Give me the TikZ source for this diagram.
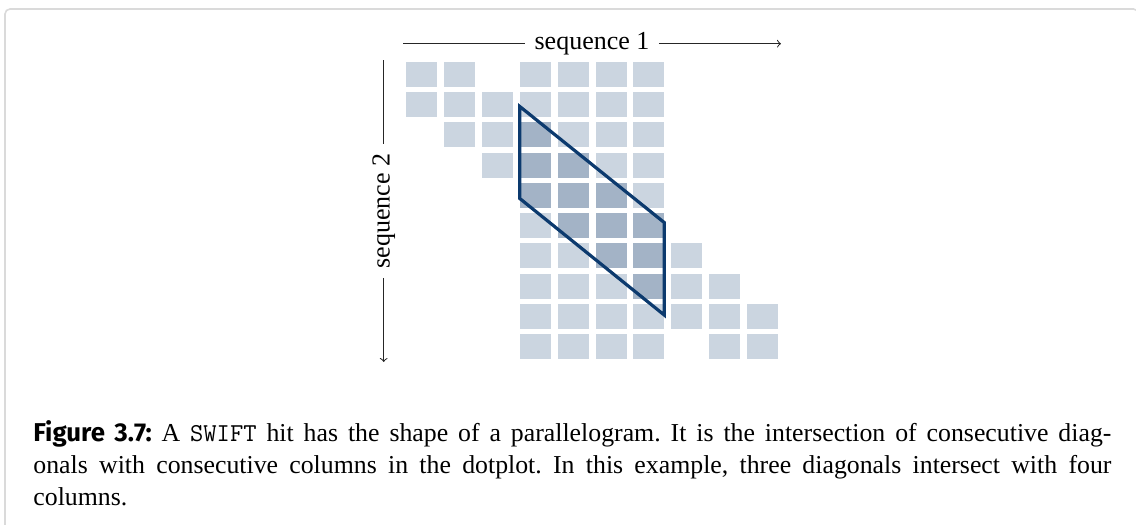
\documentclass[tikz,border=0pt]{standalone}
\usepackage{fontspec}
\setmainfont{Liberation Serif}
\setsansfont{Fira Sans}
\frenchspacing
\begin{document}
\definecolor{lightcell}{RGB}{203,213,224}
\definecolor{darkcell}{RGB}{163,179,198}
\definecolor{hitblue}{RGB}{12,58,110}
\definecolor{framegray}{RGB}{218,218,218}
\begin{tikzpicture}[x=0.5pt,y=-0.5pt,
  lcell/.style={fill=lightcell},
  dcell/.style={fill=darkcell},
  hitline/.style={draw=hitblue,line width=1.6pt,line join=miter},
  seqlabel/.style={font=\fontsize{13}{15}\selectfont,inner sep=4.5pt},
  axisline/.style={draw=black!85,line width=0.5pt},
  captext/.style={anchor=base west,inner sep=0pt,text width=539pt,align=justify,
    font=\fontsize{12.9}{16}\selectfont}]
\useasboundingbox (0,0) rectangle (1136,525);
% frame
\draw[framegray,line width=0.8pt,rounded corners=2.5pt] (5,540) -- (5,9) -- (1138.5,9) -- (1138.5,40);
% light cells
\foreach \r/\c in {1/1,1/2,1/4,1/5,1/6,1/7,
  2/1,2/2,2/3,2/4,2/5,2/6,2/7,
  3/2,3/3,3/5,3/6,3/7,
  4/3,4/6,4/7,
  5/7,
  6/4,
  7/4,7/5,7/8,
  8/4,8/5,8/6,8/8,8/9,
  9/4,9/5,9/6,9/7,9/8,9/9,9/10,
  10/4,10/5,10/6,10/7,10/9,10/10}
  \fill[lcell] ({406+(\c-1)*37.9},{62+(\r-1)*30.22}) rectangle ++(31,25);
% dark cells
\foreach \r/\c in {3/4,4/4,4/5,5/4,5/5,5/6,6/5,6/6,6/7,7/6,7/7,8/7}
  \fill[dcell] ({406+(\c-1)*37.9},{62+(\r-1)*30.22}) rectangle ++(31,25);
% hit parallelogram
\draw[hitline] (519.8,106.5) -- (519.8,198.5) -- (664.2,315) -- (664.2,222.5) -- cycle;
% sequence 1 axis
\node[seqlabel] (s1) at (592,43.7) {sequence 1};
\coordinate (h0) at (403,43.7);
\coordinate (h1) at (781,43.7);
\draw[axisline] (h0) -- (s1);
\draw[axisline,->] (s1) -- (h1);
% sequence 2 axis
\node[seqlabel,rotate=90] (s2) at (383.7,211) {sequence 2};
\coordinate (v0) at (383.7,60);
\coordinate (v1) at (383.7,362);
\draw[axisline] (v0) -- (s2);
\draw[axisline,->] (s2) -- (v1);
% caption
\node[captext] (cap) at (33,441) {{\sffamily\bfseries Figure 3.7:} A \texttt{SWIFT} hit has the shape of a parallelogram. It is the intersection of consecutive diag-\linebreak onals with consecutive columns in the dotplot. In this example, three diagonals intersect with four\linebreak columns.};
\end{tikzpicture}
\end{document}
